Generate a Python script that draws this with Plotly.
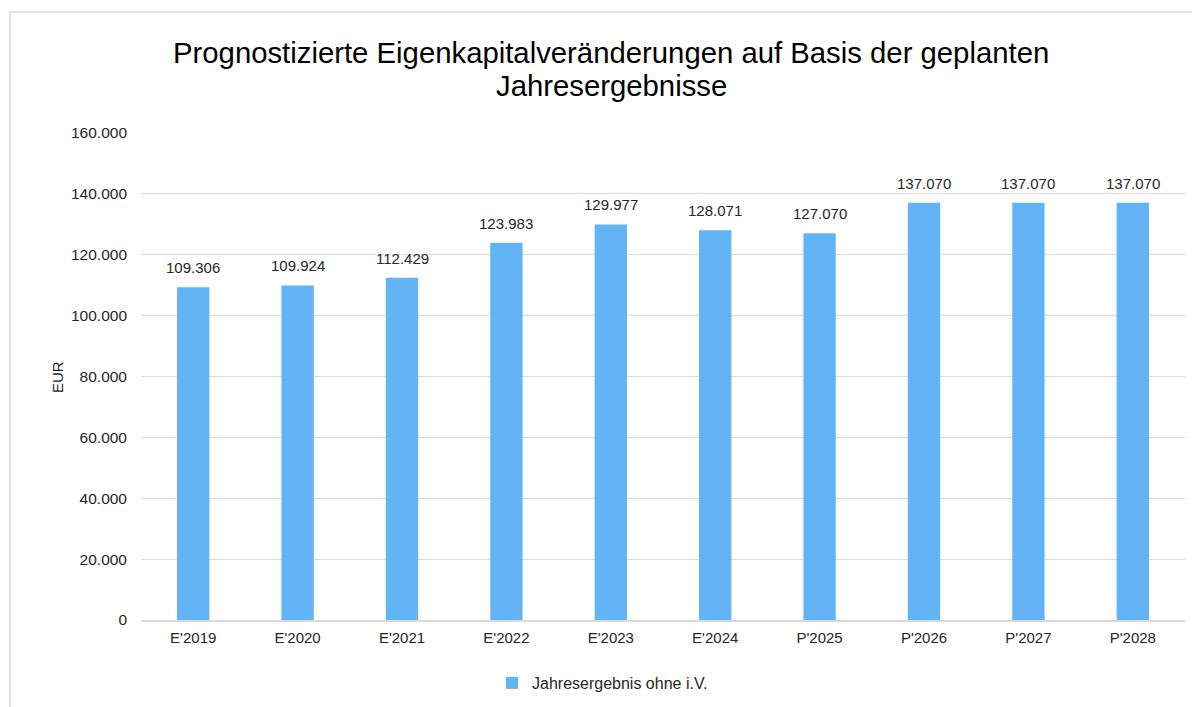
import plotly.graph_objects as go

categories = ["E'2019", "E'2020", "E'2021", "E'2022", "E'2023", "E'2024",
              "P'2025", "P'2026", "P'2027", "P'2028"]
values = [109306, 109924, 112429, 123983, 129977, 128071, 127070, 137070, 137070, 137070]
value_labels = ["109.306", "109.924", "112.429", "123.983", "129.977",
                "128.071", "127.070", "137.070", "137.070", "137.070"]
series_name = "Jahresergebnis ohne i.V."
y_ticks = [0, 20000, 40000, 60000, 80000, 100000, 120000, 140000, 160000]
y_ticklabels = ["0", "20.000", "40.000", "60.000", "80.000", "100.000",
                "120.000", "140.000", "160.000"]
title_lines = ["Prognostizierte Eigenkapitalveränderungen auf Basis der geplanten",
               "Jahresergebnisse"]

OFF = 8  # page body margin
W, H = 1200 - OFF, 707 - OFF
L, R, T, B = 141 - OFF, 15, 133 - OFF, 87
pw = W - L - R
ph = H - T - B

def px_x(x):  # reference screen pixel -> paper x
    return (x - OFF - L) / pw

def px_y(y):  # reference screen pixel -> paper y
    return (H - B - (y - OFF)) / ph

FONT = "Liberation Sans, Arial"
TXT = "#262626"

fig = go.Figure()
fig.add_trace(go.Bar(
    x=categories, y=values, name=series_name,
    marker=dict(color="#63B4F5", line=dict(width=0)),
    hoverinfo="x+y",
))

annotations = []
for c, v, lab in zip(categories, values, value_labels):
    annotations.append(dict(
        x=c, y=v, xref="x", yref="y", text=lab, showarrow=False,
        yanchor="bottom", yshift=9,
        font=dict(family=FONT, size=15, color=TXT),
    ))
annotations.append(dict(
    x=px_x(611), y=px_y(52), xref="paper", yref="paper",
    text=title_lines[0], showarrow=False, xanchor="center", yanchor="middle",
    font=dict(family=FONT, size=29.3, color="#000000"),
))
annotations.append(dict(
    x=px_x(611), y=px_y(85), xref="paper", yref="paper",
    text=title_lines[1], showarrow=False, xanchor="center", yanchor="middle",
    font=dict(family=FONT, size=29.3, color="#000000"),
))
annotations.append(dict(
    x=px_x(57), y=px_y(377), xref="paper", yref="paper",
    text="EUR", showarrow=False, textangle=-90,
    xanchor="center", yanchor="middle",
    font=dict(family=FONT, size=15, color=TXT),
))

fig.update_layout(
    width=W, height=H,
    margin=dict(l=L, r=R, t=T, b=B, pad=0, autoexpand=False),
    paper_bgcolor="white", plot_bgcolor="white",
    bargap=0.69,
    font=dict(family=FONT, size=15, color=TXT),
    showlegend=True,
    legend=dict(
        orientation="h", x=px_x(492), xanchor="left",
        y=px_y(683), yanchor="middle",
        font=dict(family=FONT, size=16, color=TXT),
        itemwidth=30, bgcolor="rgba(0,0,0,0)",
    ),
    xaxis=dict(
        showgrid=False, showline=True, linecolor="#d9d9d9", linewidth=2,
        ticks="", tickfont=dict(family=FONT, size=15, color=TXT),
        ticklabelstandoff=3, fixedrange=True,
    ),
    yaxis=dict(
        range=[0, 160000], tickvals=y_ticks, ticktext=y_ticklabels,
        showgrid=True, gridcolor="#d9d9d9", gridwidth=1.3, zeroline=False,
        showline=False, ticks="", ticklabelstandoff=13,
        tickfont=dict(family=FONT, size=15.5, color=TXT), fixedrange=True,
    ),
    annotations=annotations,
    shapes=[dict(
        type="rect", xref="paper", yref="paper",
        x0=px_x(10), x1=px_x(1230), y0=px_y(740), y1=px_y(12),
        line=dict(color="#d9d9d9", width=1.5), fillcolor="rgba(0,0,0,0)", layer="below",
    )],
)

fig.write_html("out.html")
